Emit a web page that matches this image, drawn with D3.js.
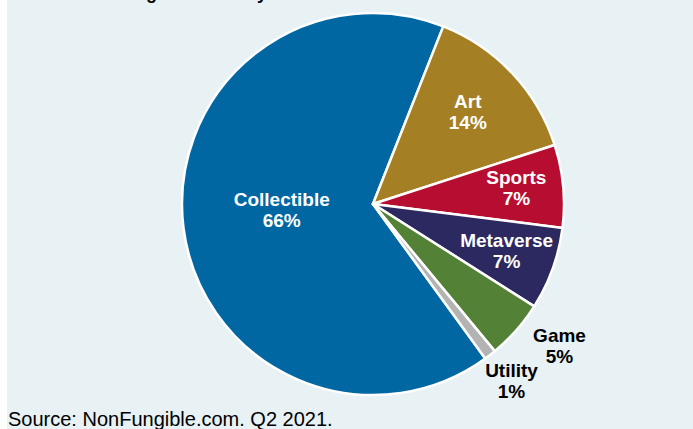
<!DOCTYPE html>
<html>
<head>
<meta charset="utf-8">
<script src="https://cdn.jsdelivr.net/npm/d3@7"></script>
<style>
  body { margin: 0; background: #ffffff; }
  svg { display: block; font-family: "Liberation Sans", Arial, sans-serif; }
</style>
</head>
<body>
<div id="chart"></div>
<script>
// data
const categories = ["Collectible", "Art", "Sports", "Metaverse", "Game", "Utility"];
const shares = [66, 14, 7, 7, 5, 1];
const colors = ["#0067a3", "#a57f24", "#b70d31", "#2b2960", "#538135", "#b3b3b3"];
const titleText = "Percentage of Sales by Sector";
const sourceText = "Source: NonFungible.com. Q2 2021.";

// label distance from centre plus a small nudge, and which labels sit outside
const labelRadius = { Collectible: 92, Art: 130, Sports: 144, Metaverse: 142, Game: 234, Utility: 226 };
const labelNudge = {
  Collectible: [0, -7],
  Art: [0, -4.5],
  Sports: [0, -3],
  Metaverse: [0, -2],
  Game: [11, -14],
  Utility: [0, -3],
};
const outside = { Game: true, Utility: true };

const width = 693,
  height = 429;

const svg = d3
  .select("#chart")
  .append("svg")
  .attr("width", width)
  .attr("height", height);

// light blue panel, thin white strip on the left
svg
  .append("rect")
  .attr("x", 7)
  .attr("y", 0)
  .attr("width", width - 7)
  .attr("height", height)
  .attr("fill", "#e8f1f4");

// title sits mostly above the visible area
svg
  .append("text")
  .attr("x", 70)
  .attr("y", -1)
  .attr("font-size", 18)
  .attr("font-weight", "bold")
  .attr("fill", "#000")
  .text(titleText);

const cx = 373,
  cy = 204,
  radius = 191;

const data = categories.map((c, i) => ({ name: c, value: shares[i], color: colors[i] }));

const pie = d3
  .pie()
  .sort(null)
  .value((d) => d.value)
  .startAngle(-216 * Math.PI / 180)
  .endAngle(144 * Math.PI / 180);

const arc = d3.arc().innerRadius(0).outerRadius(radius);

const g = svg.append("g").attr("transform", `translate(${cx},${cy})`);

const arcs = pie(data);

g.selectAll("path")
  .data(arcs)
  .join("path")
  .attr("d", arc)
  .attr("fill", (d) => d.data.color)
  .attr("stroke", "#ffffff")
  .attr("stroke-width", 2.5)
  .attr("stroke-linejoin", "round");

// labels
const labels = g
  .selectAll("text.lbl")
  .data(arcs)
  .join("text")
  .attr("class", "lbl")
  .attr("text-anchor", "middle")
  .attr("font-size", 19)
  .attr("font-weight", "bold")
  .attr("fill", (d) => (outside[d.data.name] ? "#000" : "#fff"))
  .attr("transform", (d) => {
    const a = (d.startAngle + d.endAngle) / 2;
    const r = labelRadius[d.data.name];
    const n = labelNudge[d.data.name];
    return `translate(${Math.sin(a) * r + n[0]},${-Math.cos(a) * r + n[1]})`;
  });

labels.append("tspan").attr("x", 0).attr("y", -3).text((d) => d.data.name);
labels.append("tspan").attr("x", 0).attr("y", 18).text((d) => d.data.value + "%");

// source note
svg
  .append("text")
  .attr("x", 8)
  .attr("y", 426)
  .attr("font-size", 20)
  .attr("fill", "#000")
  .text(sourceText);
</script>
</body>
</html>
